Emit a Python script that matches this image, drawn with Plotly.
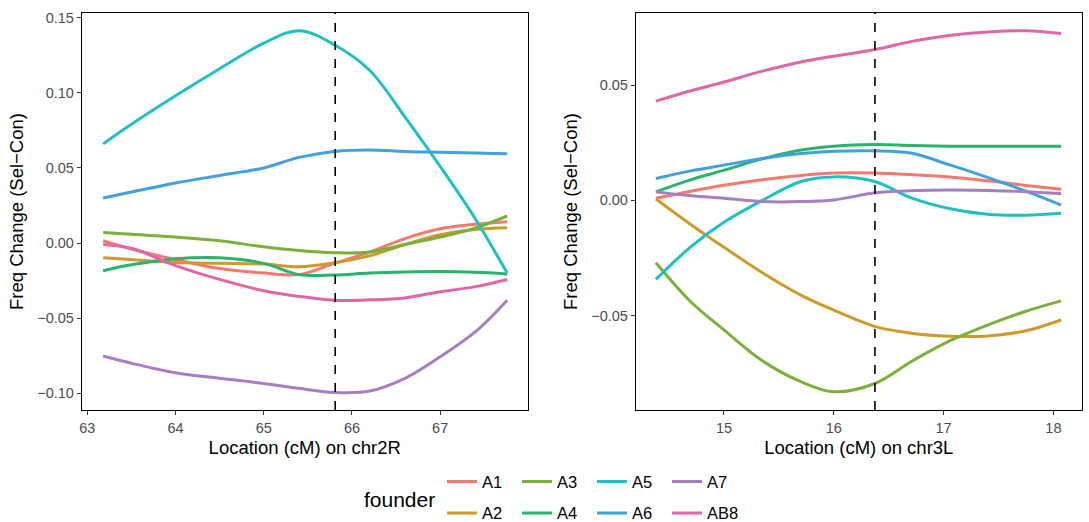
import plotly.graph_objects as go

founders = ["A1", "A2", "A3", "A4", "A5", "A6", "A7", "AB8"]
colors = ["#F47A70", "#CF9A2C", "#7CB03D", "#2AB36A", "#20BFC4", "#42A1DB", "#A67FC2", "#E066A6"]

# chr2R panel
x_2R = [63.18, 63.5, 64.0, 64.5, 65.0, 65.4, 65.8, 66.2, 66.6, 67.0, 67.4, 67.76]
y_2R = {
    "A1": [0.0015, -0.004, -0.011, -0.017, -0.020, -0.021, -0.0135, -0.006, 0.003, 0.0095, 0.0125, 0.0142],
    "A2": [-0.0097, -0.011, -0.013, -0.0135, -0.014, -0.0158, -0.0131, -0.0085, -0.001, 0.0055, 0.009, 0.0102],
    "A3": [0.007, 0.0058, 0.004, 0.0015, -0.0025, -0.005, -0.0065, -0.006, -0.001, 0.004, 0.010, 0.018],
    "A4": [-0.0184, -0.0145, -0.0105, -0.0098, -0.0135, -0.021, -0.0213, -0.020, -0.0193, -0.019, -0.0195, -0.0206],
    "A5": [0.066, 0.079, 0.098, 0.116, 0.133, 0.1413, 0.132, 0.115, 0.084, 0.051, 0.016, -0.020],
    "A6": [0.030, 0.034, 0.040, 0.045, 0.050, 0.057, 0.061, 0.062, 0.061, 0.0605, 0.060, 0.0595],
    "A7": [-0.0752, -0.080, -0.0863, -0.090, -0.0934, -0.0967, -0.0994, -0.0985, -0.090, -0.0757, -0.059, -0.038],
    "AB8": [-0.0009, -0.0035, -0.015, -0.0242, -0.0317, -0.0355, -0.038, -0.0378, -0.0365, -0.0324, -0.029, -0.0242],
}

# chr3L panel
x_3L = [14.38, 14.7, 15.0, 15.35, 15.7, 16.0, 16.38, 16.7, 17.05, 17.4, 17.75, 18.07]
y_3L = {
    "A1": [0.0009, 0.0040, 0.0066, 0.0090, 0.0108, 0.0119, 0.0119, 0.0112, 0.0102, 0.0085, 0.0065, 0.0048],
    "A2": [0.0006, -0.0105, -0.0203, -0.0313, -0.0410, -0.0475, -0.0547, -0.0575, -0.0588, -0.0587, -0.0565, -0.0518],
    "A3": [-0.027, -0.044, -0.0561, -0.0695, -0.0785, -0.0829, -0.0792, -0.0700, -0.0610, -0.0540, -0.0480, -0.0435],
    "A4": [0.0037, 0.0090, 0.0131, 0.0180, 0.0218, 0.0235, 0.0242, 0.0238, 0.0235, 0.0235, 0.0235, 0.0235],
    "A5": [-0.0342, -0.020, -0.0095, 0.0000, 0.0082, 0.0102, 0.0081, 0.0012, -0.0035, -0.006, -0.0064, -0.0056],
    "A6": [0.0095, 0.0128, 0.0153, 0.0182, 0.0203, 0.0213, 0.0215, 0.0205, 0.0155, 0.0100, 0.0040, -0.002],
    "A7": [0.0037, 0.0020, 0.0009, -0.0005, -0.0005, 0.0002, 0.0033, 0.0042, 0.0045, 0.0043, 0.0038, 0.003],
    "AB8": [0.043, 0.0475, 0.0513, 0.056, 0.0600, 0.0625, 0.0654, 0.0688, 0.0715, 0.073, 0.0735, 0.0723],
}

marker_2R = 65.81
marker_3L = 16.375

x_ticks_2R = [63, 64, 65, 66, 67]
y_ticks_2R = [-0.10, -0.05, 0.00, 0.05, 0.10, 0.15]
x_ticks_3L = [15, 16, 17, 18]
y_ticks_3L = [-0.05, 0.00, 0.05]


def fmt(v):
    s = f"{v:.2f}"
    return s.replace("-", "\u2212")


FONT = "Liberation Sans, Arial, sans-serif"
row1 = ["A1", "A3", "A5", "A7"]

fig = go.Figure()
for i, f in enumerate(founders):
    leg = "legend" if f in row1 else "legend2"
    fig.add_trace(go.Scatter(
        x=x_2R, y=y_2R[f], mode="lines", name=f,
        line=dict(color=colors[i], width=3, shape="spline", smoothing=1.0),
        xaxis="x", yaxis="y", legend=leg, showlegend=True, legendrank=i,
    ))
for i, f in enumerate(founders):
    fig.add_trace(go.Scatter(
        x=x_3L, y=y_3L[f], mode="lines", name=f,
        line=dict(color=colors[i], width=3, shape="spline", smoothing=1.0),
        xaxis="x2", yaxis="y2", showlegend=False,
    ))

fig.add_shape(type="line", xref="x", yref="y domain", x0=marker_2R, x1=marker_2R, y0=0, y1=1,
              line=dict(color="black", width=1.6, dash="dash"))
fig.add_shape(type="line", xref="x2", yref="y2 domain", x0=marker_3L, x1=marker_3L, y0=0, y1=1,
              line=dict(color="black", width=1.6, dash="dash"))

W, H = 1089, 522
axis_common = dict(
    showline=True, linecolor="black", linewidth=1.3, mirror=True,
    showgrid=False, zeroline=False, ticks="outside", ticklen=4, tickwidth=1.1,
    tickcolor="#333333", tickfont=dict(family=FONT, size=14.5, color="#4D4D4D"),
)

legend_common = dict(orientation="h", xanchor="left", yanchor="middle",
                     entrywidth=30, entrywidthmode="pixels",
                     font=dict(family=FONT, size=16.5, color="black"),
                     bgcolor="rgba(0,0,0,0)", borderwidth=0, traceorder="normal", itemwidth=30)

fig.update_layout(
    width=W, height=H,
    margin=dict(l=0, r=0, t=0, b=0, autoexpand=False),
    paper_bgcolor="white", plot_bgcolor="white",
    font=dict(family=FONT),
    xaxis=dict(domain=[82 / W, 527.5 / W], range=[62.94, 67.99],
               tickvals=x_ticks_2R, ticktext=[str(v) for v in x_ticks_2R],
               title=dict(text="Location (cM) on chr2R", font=dict(size=18.5, color="black"), standoff=6),
               anchor="y", **axis_common),
    yaxis=dict(domain=[1 - 410 / H, 1 - 13 / H], range=[-0.1111, 0.1531],
               tickvals=y_ticks_2R, ticktext=[fmt(v) for v in y_ticks_2R],
               title=dict(text="Freq Change (Sel\u2212Con)", font=dict(size=18.5, color="black"), standoff=8),
               anchor="x", **axis_common),
    xaxis2=dict(domain=[636 / W, 1081.6 / W], range=[14.199, 18.257],
                tickvals=x_ticks_3L, ticktext=[str(v) for v in x_ticks_3L],
                title=dict(text="Location (cM) on chr3L", font=dict(size=18.5, color="black"), standoff=6),
                anchor="y2", **axis_common),
    yaxis2=dict(domain=[1 - 410 / H, 1 - 13 / H], range=[-0.0908, 0.0812],
                tickvals=y_ticks_3L, ticktext=[fmt(v) for v in y_ticks_3L],
                title=dict(text="Freq Change (Sel\u2212Con)", font=dict(size=18.5, color="black"), standoff=8),
                anchor="x2", **axis_common),
    legend=dict(x=442 / W, y=1 - 481.7 / H, **legend_common),
    legend2=dict(x=442 / W, y=1 - 513.3 / H, **legend_common),
    annotations=[dict(text="founder", x=399 / W, y=1 - 499 / H, xref="paper", yref="paper",
                      xanchor="center", yanchor="middle", showarrow=False,
                      font=dict(family=FONT, size=21, color="black"))],
)

fig.write_html("out.html")
